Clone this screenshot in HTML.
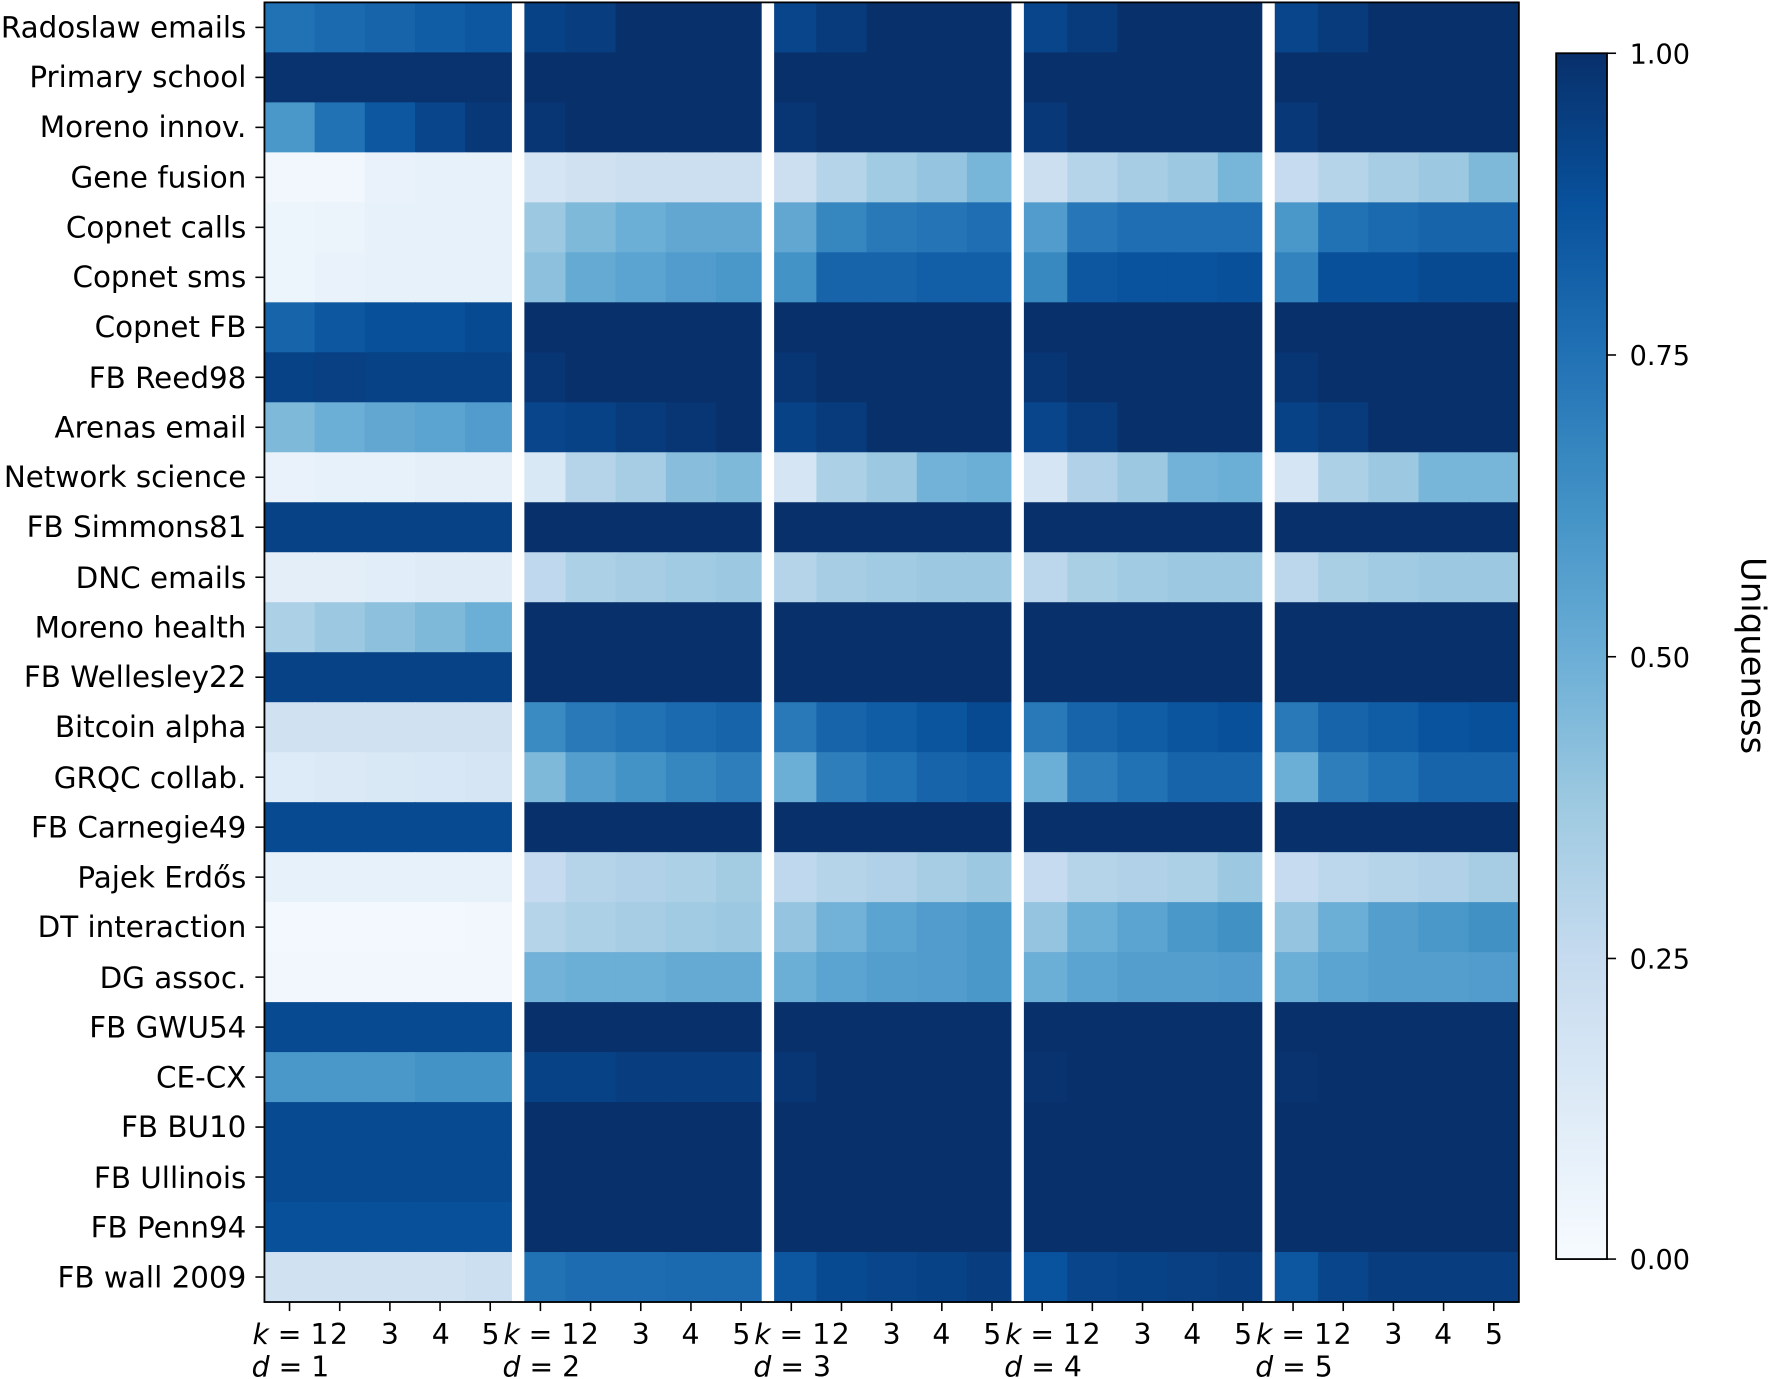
<!DOCTYPE html>
<html><head><meta charset="utf-8"><style>
html,body{margin:0;padding:0;background:#fff;}
svg{display:block;}
text{font-family:"DejaVu Sans","Liberation Sans",sans-serif;fill:#000;}
</style></head><body>
<svg id="s" width="1772" height="1379" viewBox="0 0 1568 1220" xmlns="http://www.w3.org/2000/svg">
<defs>
<linearGradient id="cb" x1="0" y1="1" x2="0" y2="0">
<stop offset="0" stop-color="#f7fbff"/><stop offset="0.125" stop-color="#deebf7"/><stop offset="0.25" stop-color="#c6dbef"/><stop offset="0.375" stop-color="#9ecae1"/><stop offset="0.5" stop-color="#6baed6"/><stop offset="0.625" stop-color="#4292c6"/><stop offset="0.75" stop-color="#2171b5"/><stop offset="0.875" stop-color="#08519c"/><stop offset="1" stop-color="#08306b"/>
</linearGradient>
</defs>
<g id="cells"></g>
<g fill="#fff">
<rect x="453" y="2" width="11" height="1150"/><rect x="674" y="2" width="11" height="1150"/><rect x="895" y="2" width="11" height="1150"/><rect x="1117" y="2" width="11" height="1150"/>
</g>
<rect x="234" y="2" width="1110" height="1150" fill="none" stroke="#000" stroke-width="1.6"/>
<rect x="1377" y="47" width="45" height="1067" fill="url(#cb)" stroke="#000" stroke-width="1.6"/>
<g stroke="#000" stroke-width="1.4" id="ticks">
<line x1="1422" y1="47" x2="1430" y2="47"/><line x1="1422" y1="314" x2="1430" y2="314"/><line x1="1422" y1="581" x2="1430" y2="581"/><line x1="1422" y1="848" x2="1430" y2="848"/><line x1="1422" y1="1114" x2="1430" y2="1114"/>
</g>
<g font-size="24">
<text x="1442" y="56">1.00</text><text x="1442" y="323">0.75</text><text x="1442" y="590">0.50</text><text x="1442" y="857">0.25</text><text x="1442" y="1123">0.00</text>
</g>
<text font-size="30" transform="translate(1541,580) rotate(90)" text-anchor="middle">Uniqueness</text>
<g font-size="26" text-anchor="end">
<text x="218" y="33">Radoslaw emails</text>
<text x="218" y="77">Primary school</text>
<text x="218" y="121">Moreno innov.</text>
<text x="218" y="166">Gene fusion</text>
<text x="218" y="210">Copnet calls</text>
<text x="218" y="254">Copnet sms</text>
<text x="218" y="298">Copnet FB</text>
<text x="218" y="343">FB Reed98</text>
<text x="218" y="387">Arenas email</text>
<text x="218" y="431">Network science</text>
<text x="218" y="475">FB Simmons81</text>
<text x="218" y="520">DNC emails</text>
<text x="218" y="564">Moreno health</text>
<text x="218" y="608">FB Wellesley22</text>
<text x="218" y="652">Bitcoin alpha</text>
<text x="218" y="697">GRQC collab.</text>
<text x="218" y="741">FB Carnegie49</text>
<text x="218" y="785">Pajek Erdős</text>
<text x="218" y="829">DT interaction</text>
<text x="218" y="874">DG assoc.</text>
<text x="218" y="918">FB GWU54</text>
<text x="218" y="962">CE-CX</text>
<text x="218" y="1006">FB BU10</text>
<text x="218" y="1051">FB Ullinois</text>
<text x="218" y="1095">FB Penn94</text>
<text x="218" y="1139">FB wall 2009</text>
</g>
<g font-size="25" text-anchor="middle">
<text x="257" y="1189"><tspan font-style="italic">k</tspan> = 1</text><text x="300" y="1189">2</text><text x="345" y="1189">3</text><text x="390" y="1189">4</text><text x="434" y="1189">5</text>
<text x="257" y="1218"><tspan font-style="italic">d</tspan> = 1</text>
<text x="479" y="1189"><tspan font-style="italic">k</tspan> = 1</text><text x="522" y="1189">2</text><text x="567" y="1189">3</text><text x="611" y="1189">4</text><text x="656" y="1189">5</text>
<text x="479" y="1218"><tspan font-style="italic">d</tspan> = 2</text>
<text x="701" y="1189"><tspan font-style="italic">k</tspan> = 1</text><text x="744" y="1189">2</text><text x="789" y="1189">3</text><text x="833" y="1189">4</text><text x="878" y="1189">5</text>
<text x="701" y="1218"><tspan font-style="italic">d</tspan> = 3</text>
<text x="923" y="1189"><tspan font-style="italic">k</tspan> = 1</text><text x="966" y="1189">2</text><text x="1011" y="1189">3</text><text x="1055" y="1189">4</text><text x="1100" y="1189">5</text>
<text x="923" y="1218"><tspan font-style="italic">d</tspan> = 4</text>
<text x="1145" y="1189"><tspan font-style="italic">k</tspan> = 1</text><text x="1188" y="1189">2</text><text x="1233" y="1189">3</text><text x="1277" y="1189">4</text><text x="1322" y="1189">5</text>
<text x="1145" y="1218"><tspan font-style="italic">d</tspan> = 5</text>
</g>
<g id="tk" stroke="#000" stroke-width="1.4"></g>
</svg>
<script>
var stops=["#f7fbff","#deebf7","#c6dbef","#9ecae1","#6baed6","#4292c6","#2171b5","#08519c","#08306b"].map(function(h){return [parseInt(h.substr(1,2),16),parseInt(h.substr(3,2),16),parseInt(h.substr(5,2),16)];});
function col(v){v=Math.max(0,Math.min(1,v))*8;var i=Math.min(7,Math.floor(v)),f=v-i,a=stops[i],b=stops[i+1];return "rgb("+[0,1,2].map(function(j){return Math.round(a[j]+(b[j]-a[j])*f);}).join(",")+")";}
function rep(d1,rest){var r=d1.slice();for(var i=0;i<4;i++)r=r.concat(rest[i]||rest[rest.length-1]);return r;}
var one=[1,1,1,1,1];
var D=[
rep([.75,.78,.8,.83,.85],[[.93,.95,1,1,1],[.92,.96,1,1,1],[.92,.96,1,1,1],[.92,.96,1,1,1]]),
rep([.99,.99,.99,.99,.99],[one]),
rep([.6,.75,.85,.92,.97],[[.98,1,1,1,1],[.98,1,1,1,1],[.97,1,1,1,1],[.97,1,1,1,1]]),
rep([.03,.03,.07,.08,.08],[[.17,.2,.22,.22,.22],[.22,.3,.37,.4,.47],[.22,.3,.35,.38,.47],[.25,.3,.35,.38,.45]]),
rep([.05,.06,.08,.08,.08],[[.38,.45,.5,.53,.53],[.53,.67,.72,.74,.76],[.58,.73,.76,.76,.76],[.6,.75,.78,.8,.8]]),
rep([.05,.07,.08,.08,.08],[[.42,.52,.55,.58,.6],[.62,.8,.8,.82,.82],[.66,.85,.87,.87,.88],[.68,.88,.88,.9,.9]]),
rep([.8,.85,.88,.88,.9],[one]),
rep([.93,.94,.93,.93,.93],[[.98,1,1,1,1],[.98,1,1,1,1],[.98,1,1,1,1],[.98,1,1,1,1]]),
rep([.45,.5,.53,.55,.58],[[.92,.93,.96,.98,1],[.93,.96,1,1,1],[.92,.96,1,1,1],[.93,.96,1,1,1]]),
rep([.07,.08,.08,.09,.09],[[.15,.3,.35,.43,.45],[.17,.33,.38,.48,.5],[.17,.32,.38,.48,.5],[.17,.33,.38,.47,.47]]),
rep([.93,.93,.93,.93,.93],[one]),
rep([.1,.1,.11,.12,.12],[[.27,.33,.35,.37,.38],[.3,.35,.37,.38,.38],[.28,.34,.37,.38,.38],[.28,.34,.37,.38,.38]]),
rep([.33,.38,.42,.45,.5],[one]),
rep([.93,.93,.93,.93,.93],[one]),
rep([.2,.2,.2,.2,.2],[[.65,.72,.75,.78,.8],[.72,.8,.83,.86,.9],[.72,.8,.83,.86,.88],[.72,.8,.83,.87,.88]]),
rep([.13,.14,.15,.16,.17],[[.45,.57,.62,.67,.7],[.5,.7,.75,.8,.82],[.5,.7,.75,.8,.8],[.5,.7,.75,.8,.8]]),
rep([.9,.9,.9,.9,.9],[one]),
rep([.08,.08,.08,.08,.08],[[.25,.3,.32,.33,.36],[.27,.3,.32,.35,.38],[.25,.3,.32,.33,.38],[.25,.28,.3,.32,.35]]),
rep([.02,.02,.02,.02,.03],[[.3,.33,.35,.37,.38],[.4,.48,.55,.58,.6],[.4,.5,.55,.6,.63],[.4,.5,.57,.6,.63]]),
rep([.03,.03,.03,.03,.03],[[.48,.5,.5,.52,.52],[.5,.55,.57,.58,.6],[.5,.55,.57,.57,.58],[.5,.55,.57,.57,.58]]),
rep([.9,.9,.9,.9,.9],[one]),
rep([.6,.6,.6,.62,.62],[[.93,.93,.95,.95,.95],[.98,1,1,1,1],[.99,1,1,1,1],[.99,1,1,1,1]]),
rep([.9,.9,.9,.9,.9],[one]),
rep([.9,.9,.9,.9,.9],[one]),
rep([.88,.88,.88,.88,.88],[one]),
rep([.2,.2,.2,.2,.22],[[.75,.77,.77,.78,.78],[.85,.9,.92,.93,.95],[.87,.92,.93,.94,.95],[.85,.92,.95,.95,.95]])
];
var ns="http://www.w3.org/2000/svg",g=document.getElementById("cells"),tk=document.getElementById("tk");
var x0=234,y0=2,cw=1110/25,rh=1150/26;
for(var r=0;r<26;r++){for(var c=0;c<25;c++){var e=document.createElementNS(ns,"rect");e.setAttribute("x",x0+c*cw);e.setAttribute("y",y0+r*rh);e.setAttribute("width",cw+0.6);e.setAttribute("height",rh+0.6);e.setAttribute("fill",col(D[r][c]));g.appendChild(e);}
var l=document.createElementNS(ns,"line");var yy=y0+(r+0.5)*rh;l.setAttribute("x1",226);l.setAttribute("x2",234);l.setAttribute("y1",yy);l.setAttribute("y2",yy);tk.appendChild(l);}
for(var c=0;c<25;c++){var l=document.createElementNS(ns,"line");var xx=x0+(c+0.5)*cw;l.setAttribute("x1",xx);l.setAttribute("x2",xx);l.setAttribute("y1",1152);l.setAttribute("y2",1160);tk.appendChild(l);}
</script>
</body></html>
